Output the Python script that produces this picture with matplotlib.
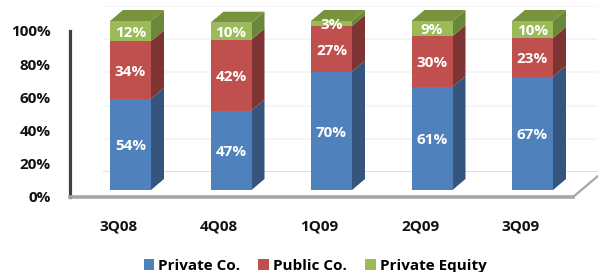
import matplotlib; matplotlib.use("Agg")
import numpy as np, matplotlib.pyplot as plt
from matplotlib.patches import Polygon
from matplotlib.lines import Line2D

plt.rcParams["font.family"] = ["Open Sans", "DejaVu Sans"]
plt.rcParams["font.weight"] = "bold"

QUARTERS = ["3Q08", "4Q08", "1Q09", "2Q09", "3Q09"]
SERIES = ["Private Co.", "Public Co.", "Private Equity"]
private_co = [54, 47, 70, 61, 67]
public_co = [34, 42, 27, 30, 23]
private_eq = [12, 10, 3, 9, 10]
YTICKS = [0, 20, 40, 60, 80, 100]

FRONT = ["#4F81BD", "#C0504D", "#9BBB59"]
SIDE = ["#35557F", "#7D3432", "#6B873A"]
TOP = "#77933C"

W, H, DPI = 598, 272, 100
fig = plt.figure(figsize=(W / DPI, H / DPI), dpi=DPI)

def fpos(x0, x1, ytop, ybot):
    # pixel box (top-left origin) -> figure fractions
    return [x0 / W, (H - ybot) / H, (x1 - x0) / W, (ybot - ytop) / H]

# back wall gridlines (0 at y=172px, 100 at y=6px)
axg = fig.add_axes(fpos(103, 598, 6, 172), zorder=0)
axg.set_xlim(0, 1); axg.set_ylim(0, 100); axg.axis("off")
for v in YTICKS:
    axg.axhline(v, color="#d9d9d9" if v == 0 else "#f3f3f3", lw=1.2)

# axis frame: left wall line + floor, tick labels, categories
axa = fig.add_axes(fpos(70, 573, 31, 197), zorder=1)
axa.patch.set_alpha(0)
axa.set_ylim(0, 100)
# category labels sit ~11.5px left of the bar centres, 100.5px apart
axa.set_xlim((70 - 118.5) / 100.5, (573 - 118.5) / 100.5)
for s in ("top", "right"):
    axa.spines[s].set_visible(False)
axa.spines["left"].set_color("#404040"); axa.spines["left"].set_linewidth(2.3)
axa.spines["bottom"].set_color("#a6a6a6"); axa.spines["bottom"].set_linewidth(2.6)
axa.set_yticks(YTICKS, [f"{v}%" for v in YTICKS])
axa.set_xticks(range(len(QUARTERS)), QUARTERS)
axa.tick_params(axis="y", length=0, pad=14, labelsize=11, labelcolor="#111111")
axa.tick_params(axis="x", length=0, pad=16, labelsize=11, labelcolor="#111111")

# floor edge going back on the right
fig.add_artist(Line2D([573 / W, 598 / W], [(H - 197) / H, (H - 176) / H],
                      color="#a6a6a6", lw=1.6, transform=fig.transFigure))

# bars: front face 0 at y=190px, 100 at y=21px; centres at 130.5 + 100.5*i px
ax = fig.add_axes([0, 0, 1, 1], zorder=2)
ax.patch.set_alpha(0); ax.axis("off")
ax.set_xlim(-130.5 / 100.5, (W - 130.5) / 100.5)
ax.set_ylim((190 - H) / 1.69, 190 / 1.69)
dx, dy = 13 / 100.5, 11 / 1.69
bw = 41 / 100.5

x = np.arange(len(QUARTERS))
data = [private_co, public_co, private_eq]
bottom = np.zeros(len(QUARTERS))
handles = []
for k, vals in enumerate(data):
    vals = np.array(vals, dtype=float)
    for i in range(len(x)):
        r = x[i] + bw / 2
        y0, y1 = bottom[i], bottom[i] + vals[i]
        ax.add_patch(Polygon([(r, y0), (r + dx, y0 + dy), (r + dx, y1 + dy), (r, y1)],
                             closed=True, fc=SIDE[k], ec="none", zorder=2))
        if k == len(data) - 1:
            l = x[i] - bw / 2
            ax.add_patch(Polygon([(l, y1), (l + dx, y1 + dy), (r + dx, y1 + dy), (r, y1)],
                                 closed=True, fc=TOP, ec="none", zorder=2))
    b = ax.bar(x, vals, bw, bottom=bottom, color=FRONT[k], edgecolor="none", zorder=3,
               label=SERIES[k])
    handles.append(b)
    for i in range(len(x)):
        ax.text(x[i], bottom[i] + vals[i] / 2 - 1, f"{int(vals[i])}%", ha="center", va="center",
                color="white", fontsize=11, fontweight="bold", zorder=4)
    bottom += vals

fig.legend(handles, SERIES, loc="center", bbox_to_anchor=(315 / W, (H - 266) / H), ncol=3,
           frameon=False, fontsize=11, handlelength=0.7, handleheight=0.7,
           handletextpad=0.25, columnspacing=1.2, borderpad=0)

fig.savefig("out.png", dpi=DPI)
